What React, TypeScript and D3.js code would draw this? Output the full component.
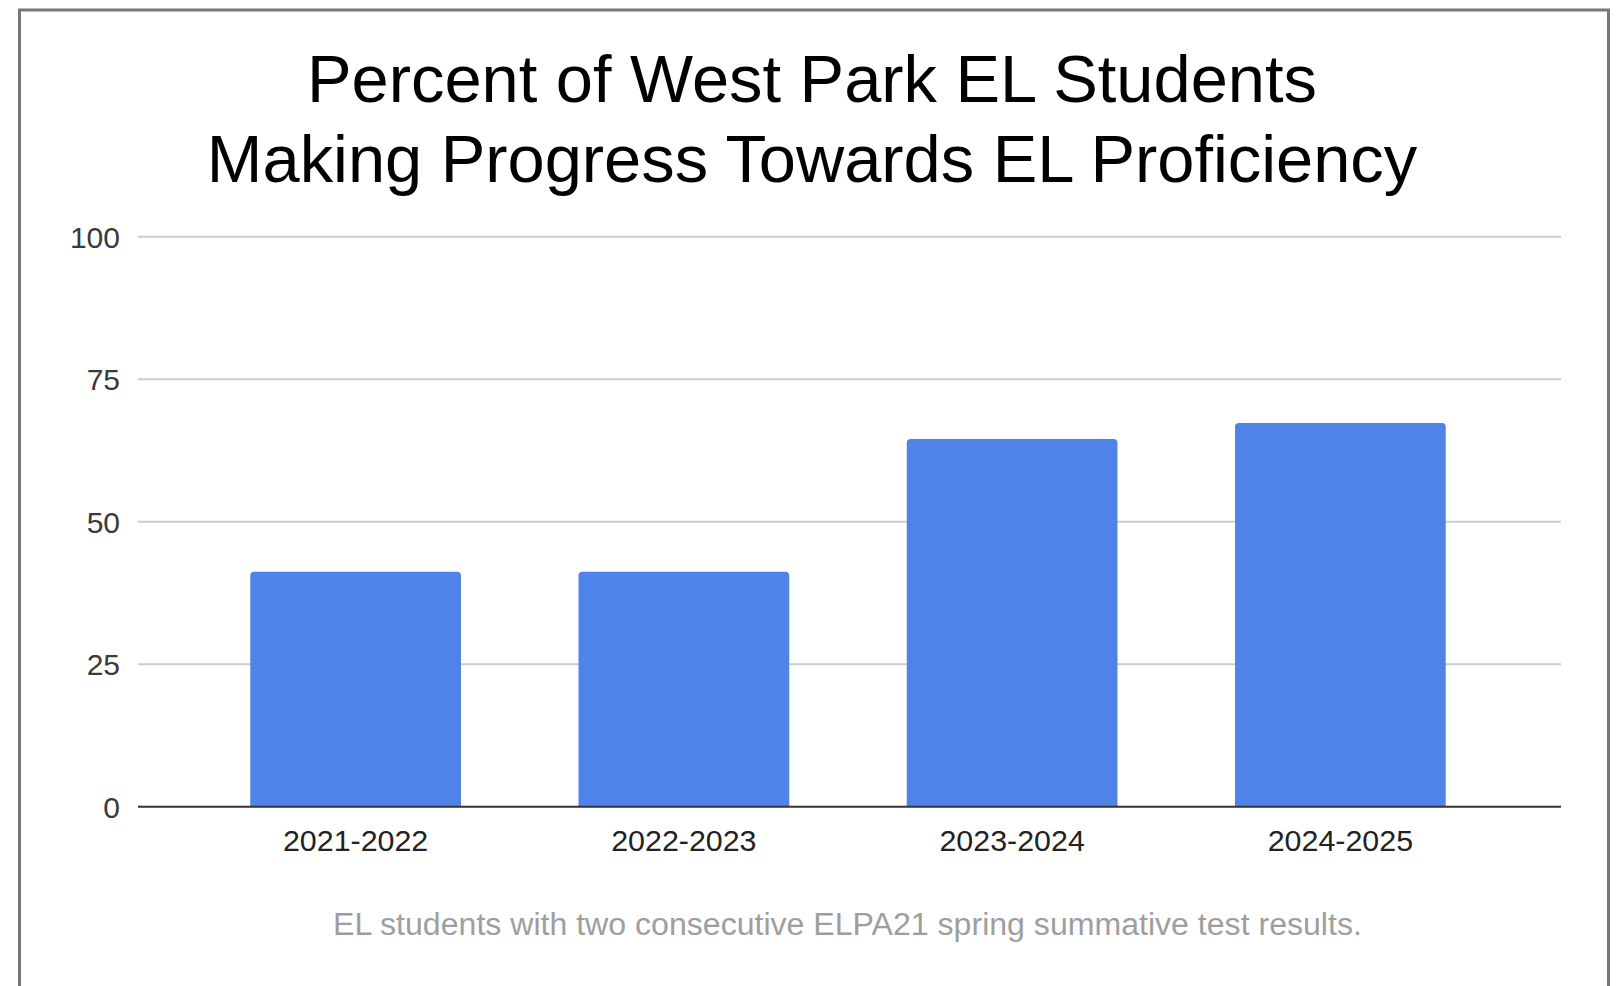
import React from "react";
import * as d3 from "d3";

const categories: string[] = ["2021-2022", "2022-2023", "2023-2024", "2024-2025"];
const values: number[] = [41.2, 41.2, 64.5, 67.3];
const yTicks: number[] = [0, 25, 50, 75, 100];
const titleLines: string[] = ["Percent of West Park EL Students", "Making Progress Towards EL Proficiency"];
const footer = "EL students with two consecutive ELPA21 spring summative test results.";

const W = 1616;
const H = 986;
const FONT = "'Liberation Sans', Arial, Helvetica, sans-serif";

export default function App() {
  const x = d3
    .scaleBand<string>()
    .domain(categories)
    .range([137, 1559])
    .paddingInner(0.358)
    .paddingOuter(0.345);
  const y = d3.scaleLinear().domain([0, 100]).range([806.7, 236.7]);
  const r = 4;

  const barPath = (x0: number, w: number, yTop: number, yBase: number) => {
    const p = d3.path();
    p.moveTo(x0, yBase);
    p.lineTo(x0, yTop + r);
    p.quadraticCurveTo(x0, yTop, x0 + r, yTop);
    p.lineTo(x0 + w - r, yTop);
    p.quadraticCurveTo(x0 + w, yTop, x0 + w, yTop + r);
    p.lineTo(x0 + w, yBase);
    p.closePath();
    return p.toString();
  };

  const gridMin = 138;
  const gridMax = 1561;

  return (
    <svg
      width={W}
      height={H}
      style={{ position: "absolute", left: 0, top: 0, background: "#fff" }}
      fontFamily={FONT}
    >
      <rect x={0} y={0} width={W} height={H} fill="#ffffff" />
      <rect x={19.5} y={10} width={1589} height={1000} fill="none" stroke="#777" strokeWidth={3} />

      {titleLines.map((t, i) => (
        <text key={i} x={812} y={102 + i * 80} textAnchor="middle" fontSize={66.8} fill="#000">
          {t}
        </text>
      ))}

      {yTicks.map((t) => (
        <g key={t}>
          {t !== 0 && (
            <line x1={gridMin} x2={gridMax} y1={y(t)} y2={y(t)} stroke="#cccccc" strokeWidth={2} />
          )}
          <text x={120} y={y(t) + 11} textAnchor="end" fontSize={30} fill="#3a3a3a">
            {t}
          </text>
        </g>
      ))}

      {categories.map((c, i) => (
        <path
          key={c}
          d={barPath(x(c) as number, x.bandwidth(), y(values[i]), y(0))}
          fill="#5083e8"
        />
      ))}

      <line x1={gridMin} x2={gridMax} y1={y(0)} y2={y(0)} stroke="#333" strokeWidth={2} />

      {categories.map((c) => (
        <text
          key={c}
          x={(x(c) as number) + x.bandwidth() / 2}
          y={851}
          textAnchor="middle"
          fontSize={30.4}
          fill="#222"
        >
          {c}
        </text>
      ))}

      <text x={(gridMin + gridMax) / 2 - 2} y={935} textAnchor="middle" fontSize={32.1} fill="#9e9e9e">
        {footer}
      </text>
    </svg>
  );
}
